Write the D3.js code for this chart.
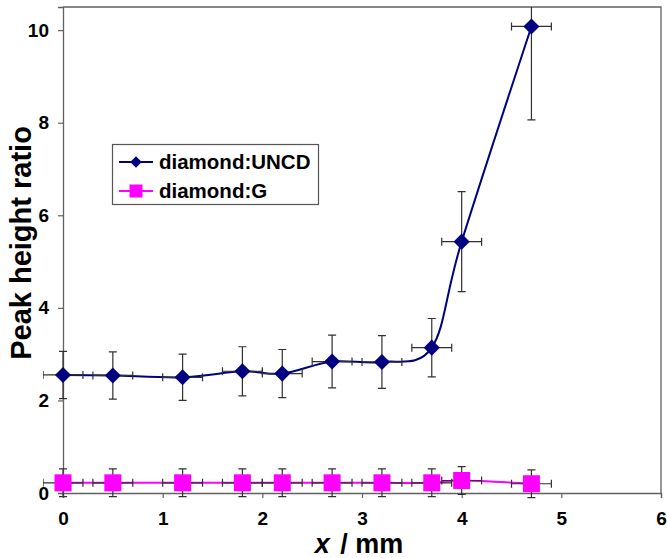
<!DOCTYPE html>
<html>
<head>
<meta charset="utf-8">
<script src="https://cdn.jsdelivr.net/npm/d3@7"></script>
<style>
  html, body { margin: 0; padding: 0; background: #fff; }
  svg { display: block; font-family: Arial, "Liberation Sans", sans-serif; }
  .tick text { font-weight: bold; font-family: Arial, "Liberation Sans", sans-serif; }
</style>
</head>
<body>
<svg id="chart" width="667" height="558"></svg>
<script>
// Measurement positions (mm) and results
const positions = [0, 0.5, 1.2, 1.8, 2.2, 2.7, 3.2, 3.7, 4.0, 4.7];
const uncdRatio = [2.55, 2.54, 2.50, 2.63, 2.58, 2.84, 2.83, 3.14, 5.43, 10.08];
const uncdErr   = [0.51, 0.51, 0.50, 0.53, 0.52, 0.57, 0.57, 0.63, 1.08, 2.02];
const gRatio    = [0.22, 0.22, 0.22, 0.22, 0.22, 0.22, 0.22, 0.22, 0.27, 0.20];
const gErr      = [0.30, 0.30, 0.30, 0.30, 0.30, 0.30, 0.30, 0.30, 0.30, 0.30];
const xErr      = [0.2, 0.2, 0.2, 0.2, 0.2, 0.2, 0.2, 0.2, 0.2, 0.2];

const xTicks = [0, 1, 2, 3, 4, 5, 6];
const yTicks = [0, 2, 4, 6, 8, 10];
const seriesNames = ["diamond:UNCD", "diamond:G"];

const FONT = 'Arial, "Liberation Sans", sans-serif';
const svg = d3.select("#chart");
const W = 667, H = 558;
const margin = { top: 7, right: 6, bottom: 65, left: 63 };
const iw = W - margin.left - margin.right;
const ih = H - margin.top - margin.bottom;

const x = d3.scaleLinear().domain([0, 6]).range([0, iw]);
const y = d3.scaleLinear().domain([0, 10.5]).range([ih, 0]);

const g = svg.append("g").attr("transform", `translate(${margin.left},${margin.top})`);

const axisColor = "#606060";
const errColor = "#303030";

// frame (top and right)
g.append("path")
  .attr("d", `M0,0H${iw}V${ih}`)
  .attr("fill", "none").attr("stroke", axisColor).attr("stroke-width", 1.3);

// axes
const yAxis = g.append("g").call(d3.axisLeft(y).tickValues(yTicks).tickSize(5).tickPadding(9).tickFormat(d3.format("d")));
const xAxis = g.append("g").attr("transform", `translate(0,${ih})`)
  .call(d3.axisBottom(x).tickValues(xTicks).tickSize(5).tickPadding(14).tickFormat(d3.format("d")));
[yAxis, xAxis].forEach(a => {
  a.attr("font-family", FONT).attr("font-size", 19);
  a.select(".domain").attr("stroke", axisColor).attr("stroke-width", 1.3);
  a.selectAll(".tick line").attr("stroke", axisColor).attr("stroke-width", 1.2);
  a.selectAll(".tick text").attr("fill", "#000").style("font-weight", "bold").style("font-size", "19px");
});

// axis titles
svg.append("text")
  .attr("transform", `translate(31,243) rotate(-90)`)
  .attr("text-anchor", "middle")
  .attr("font-size", 29).attr("font-weight", "bold").attr("fill", "#000")
  .text("Peak height ratio");

const xt = svg.append("text")
  .attr("x", margin.left + iw / 2 - 3).attr("y", 553)
  .attr("text-anchor", "middle")
  .attr("font-size", 27).attr("font-weight", "bold").attr("fill", "#000");
xt.append("tspan").attr("font-style", "italic").text("x");
xt.append("tspan").attr("dx", 3).text(" / mm");

// clip for the error bars at the top of the plot
svg.append("defs").append("clipPath").attr("id", "plotclip")
  .append("rect").attr("x", -20).attr("y", 0).attr("width", iw + 40).attr("height", ih + 40);

const uncd = positions.map((p, i) => ({ x: p, y: uncdRatio[i], ey: uncdErr[i], ex: xErr[i] }));
const gr = positions.map((p, i) => ({ x: p, y: gRatio[i], ey: gErr[i], ex: xErr[i] }));

const line = d3.line().x(d => x(d.x)).y(d => y(d.y)).curve(d3.curveCardinal.tension(0));

function drawSeries(data, color) {
  g.append("path").datum(data)
    .attr("d", line).attr("fill", "none")
    .attr("stroke", color).attr("stroke-width", 2);
}

function drawErrors(data) {
  const eb = g.append("g").attr("clip-path", "url(#plotclip)")
    .attr("stroke", errColor).attr("stroke-width", 1.2).attr("fill", "none");
  const cap = 4;
  data.forEach(d => {
    const cx = x(d.x), cy = y(d.y);
    const y1 = y(d.y + d.ey), y2 = y(d.y - d.ey);
    const x1 = x(d.x - d.ex), x2 = x(d.x + d.ex);
    eb.append("path").attr("d",
      `M${cx},${y1}V${y2}M${cx - cap},${y1}H${cx + cap}M${cx - cap},${y2}H${cx + cap}` +
      `M${x1},${cy}H${x2}M${x1},${cy - cap}V${cy + cap}M${x2},${cy - cap}V${cy + cap}`);
  });
}

drawSeries(uncd, "#000080");
drawSeries(gr, "#ff00ff");
drawErrors(uncd);
drawErrors(gr);

const diamond = d3.symbol().type(d3.symbolDiamond2).size(165);
g.append("g").selectAll("path").data(uncd).join("path")
  .attr("transform", d => `translate(${x(d.x)},${y(d.y)})`)
  .attr("d", diamond).attr("fill", "#000080");

const sq = 17;
g.append("g").selectAll("rect").data(gr).join("rect")
  .attr("x", d => x(d.x) - sq / 2).attr("y", d => y(d.y) - sq / 2)
  .attr("width", sq).attr("height", sq).attr("fill", "#ff00ff");

// legend
const lg = svg.append("g");
lg.append("rect").attr("x", 112.5).attr("y", 144.5).attr("width", 206).attr("height", 60)
  .attr("fill", "#fff").attr("stroke", "#555").attr("stroke-width", 1.2);
const rows = [
  { name: seriesNames[0], color: "#000080", shape: "diamond", yy: 162 },
  { name: seriesNames[1], color: "#ff00ff", shape: "square", yy: 191 }
];
rows.forEach(r => {
  lg.append("line").attr("x1", 119).attr("x2", 153).attr("y1", r.yy).attr("y2", r.yy)
    .attr("stroke", r.color).attr("stroke-width", 2);
  if (r.shape === "diamond") {
    lg.append("path").attr("transform", `translate(136,${r.yy})`)
      .attr("d", d3.symbol().type(d3.symbolDiamond2).size(85)).attr("fill", r.color);
  } else {
    lg.append("rect").attr("x", 129.5).attr("y", r.yy - 6.5).attr("width", 13).attr("height", 13).attr("fill", r.color);
  }
  lg.append("text").attr("x", 159).attr("y", r.yy + 7)
    .attr("font-size", 20.5).attr("font-weight", "bold").attr("fill", "#000").text(r.name);
});
</script>
</body>
</html>
